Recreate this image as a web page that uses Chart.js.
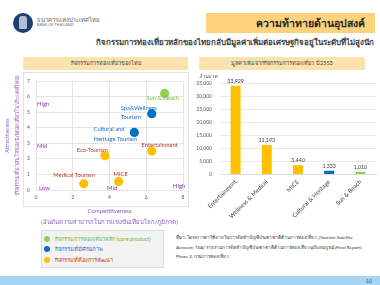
<!DOCTYPE html>
<html><head><meta charset="utf-8">
<script src="https://cdn.jsdelivr.net/npm/chart.js@4.4.1/dist/chart.umd.min.js"></script>
<style>
html,body{margin:0;padding:0}
body{width:380px;height:285px;overflow:hidden;background:#fff;position:relative;font-family:Lato,"Noto Sans",sans-serif;color:#333}
.abs{position:absolute;white-space:nowrap}
canvas{position:absolute}
</style></head><body>
<div class="abs" style="left:13px;top:13px;width:20px;height:20px;border-radius:50%;background:#1d3f73"></div>
<div class="abs" style="left:19px;top:16px;width:8px;height:13px;border-radius:3px 3px 1px 1px;background:#d9dfe9;opacity:.8"></div>
<div class="abs" style="left:37px;top:15px;font-size:6px;color:#666">ธนาคารแห่งประเทศไทย</div>
<div class="abs" style="left:37px;top:23px;font-size:3.5px;color:#666;letter-spacing:.2px">BANK OF THAILAND</div>
<div class="abs" style="left:206px;top:13px;width:169px;height:20px;background:#fcd27d"></div>
<div class="abs" id="title" style="right:15px;top:15px;font-size:10.5px;font-weight:bold;color:#262626;line-height:16px">ความท้าทายด้านอุปสงค์</div>
<div class="abs" id="sub" style="right:6px;top:37px;font-size:7.9px;font-weight:600;color:#404040;line-height:11px">กิจกรรมการท่องเที่ยวหลักของไทยกลับมีมูลค่าเพิ่มต่อเศรษฐกิจอยู่ในระดับที่ไม่สูงนัก</div>
<div class="abs" style="left:23px;top:57px;width:165px;height:13px;background:#fce3ad;font-size:5.5px;line-height:13px;text-align:center;color:#404040">กิจกรรมการท่องเที่ยวของไทย</div>
<div class="abs" style="left:199px;top:57px;width:166px;height:13px;background:#fce3ad;font-size:5.5px;line-height:13px;text-align:center;color:#404040">มูลค่าเพิ่มจากกิจกรรมการท่องเที่ยว ปี 2553</div>
<div class="abs" style="left:23px;top:72px;width:164px;height:133px;border:1px solid #e3e3e3"></div>
<canvas id="scatter" width="190" height="158" style="left:0;top:72px"></canvas>
<canvas id="bars" width="190" height="156" style="left:190px;top:72px"></canvas>
<div class="abs" style="left:199px;top:72px;font-size:5px;color:#404040;font-style:italic">ล้านบาท</div>
<div class="abs" id="legend" style="left:41px;top:230px;width:121px;height:36px;background:#f2f2f2;border:1px solid #dcdcdc"></div>
<div class="abs" style="left:176px;top:233px;font-size:4.6px;line-height:9.5px;color:#333">ที่มา: โครงการค่าใช้จ่ายในการจัดทำบัญชีประชาชาติด้านการท่องเที่ยว (Tourism Satellite<br>Account: TSA) รายงานการจัดทำบัญชีประชาชาติด้านการท่องเที่ยวฉบับสมบูรณ์ (Final Report)<br>Phase 2, กรมการท่องเที่ยว</div>
<div class="abs" style="left:0;top:276px;width:380px;height:9px;background:#aad4f4"></div>
<div class="abs" style="left:366px;top:277px;font-size:5px;color:#404040;line-height:8px">10</div>
<script>
// ---- data: scatter (Thai tourism activities) ----
const activities = ['Sun & Beach','Spa&Wellness Tourism','Cultural and Heritage Tourism','Entertainment','Eco-Tourism','MICE','Medical Tourism'];
const activityLabelLines = [['Sun & Beach'],['Spa&Wellness','Tourism'],['Cultural and','Heritage Tourism'],['Entertainment'],['Eco-Tourism'],['MICE'],['Medical Tourism']];
const competitiveness = [7.0, 6.3, 5.35, 6.3, 3.75, 4.5, 2.6];
const attractiveness = [6.2, 4.9, 3.7, 2.5, 2.2, 0.55, 0.4];
const activityGroup = ['core','potential','potential','develop','develop','develop','develop'];
const xTicks = [0,2,4,6,8];
const yTicks = [0,1,2,3,4,5,6,7];
const xTitle = ['Competitiveness','(อันดับความสามารถในการแข่งขันเทียบโลก/ภูมิภาค)'];
const yTitle = ['Attractiveness','(กิจกรรมที่น่าสนใจของนักท่องเที่ยวในประเทศไทย)'];
const quadrantTexts = ['High','Mid','Low','Mid','High'];
// ---- legend ----
const groups = ['core','potential','develop'];
const groupNames = ['กิจกรรมการท่องเที่ยวหลัก (core product)','กิจกรรมที่มีศักยภาพ','กิจกรรมที่ต้องการพัฒนา'];
// ---- data: bars (value added 2553, million baht) ----
const barCategories = ['Entertainment','Wellness & Medical','MICE','Cultural & Heritage','Sun & Beach'];
const barValues = [33929, 11193, 3440, 1333, 1010];
const barGroup = ['develop','develop','develop','potential','core'];
const barTicks = [0,5000,10000,15000,20000,25000,30000,35000];

// ---- styles ----
const groupColors = {core:'#92D050', potential:'#0070C0', develop:'#FFC000'};
const groupTextColors = {core:'#6fb83a', potential:'#1f6fbf', develop:'#c0392b'};
const labelStyle = [
  {dx:-2, dy:5, align:'center'},
  {dx:-31, dy:-5.7, align:'left', lh:9},
  {dx:-40.7, dy:-3, align:'left', lh:9.3},
  {dx:8, dy:-6, align:'center'},
  {dx:-12.6, dy:-5.6, align:'center'},
  {dx:2, dy:-7.3, align:'center'},
  {dx:-9.7, dy:-8.4, align:'center'}
];
const quadrantPos = [[37,104,'left'],[37,146,'left'],[39,188,'left'],[107,188,'left'],[173,186,'left']]; // page px
const FONT = 'Lato, "Noto Sans", sans-serif';

// legend html
const lg = document.getElementById('legend');
groups.forEach((g,i)=>{
  const d = document.createElement('div');
  d.className='abs';
  d.style.cssText = `left:2px;top:${3.5+i*10.8}px;font-size:5.6px;line-height:8px;color:${groupTextColors[g]}`;
  d.innerHTML = `<span style="display:inline-block;width:6px;height:6px;border-radius:50%;background:${groupColors[g]};vertical-align:-1px;margin-right:5px"></span>${groupNames[i]}`;
  lg.appendChild(d);
});

Chart.defaults.font.family = FONT;

const scatterLabels = {
  id:'scatterLabels',
  afterDatasetsDraw(chart){
    const ctx = chart.ctx;
    const meta = chart.getDatasetMeta(0);
    ctx.save();
    ctx.font = `5.8px ${FONT}`;
    ctx.textBaseline = 'middle';
    meta.data.forEach((pt,i)=>{
      const st = labelStyle[i];
      ctx.fillStyle = groupTextColors[activityGroup[i]];
      ctx.textAlign = st.align;
      activityLabelLines[i].forEach((ln,j)=>{
        ctx.fillText(ln, pt.x + st.dx, pt.y + st.dy + j*(st.lh||9));
      });
    });
    ctx.fillStyle = '#8a3aa6';
    ctx.font = `6px ${FONT}`;
    quadrantTexts.forEach((t,i)=>{
      const p = quadrantPos[i];
      ctx.textAlign = p[2];
      ctx.fillText(t, p[0], p[1]-72);
    });
    ctx.restore();
  }
};

new Chart(document.getElementById('scatter'), {
  type:'scatter',
  data:{datasets:[{
    data: competitiveness.map((c,i)=>({x:c, y:attractiveness[i]})),
    pointBackgroundColor: activityGroup.map(g=>groupColors[g]),
    pointBorderWidth:0, pointRadius:4.6, pointHoverRadius:4.6
  }]},
  options:{
    responsive:false, animation:false, devicePixelRatio:1,
    layout:{padding:{top:9,right:7,left:0,bottom:0}},
    plugins:{legend:{display:false}, tooltip:{enabled:false}},
    scales:{
      x:{type:'linear', min:0, max:8,
        afterBuildTicks(s){ s.ticks = xTicks.map(v=>({value:v})); },
        ticks:{font:{size:5}, color:'#595959', padding:4},
        grid:{color:'#dedede', drawTicks:false, lineWidth:0.8},
        border:{display:false},
        title:{display:true, text:xTitle, color:'#8a5cc7', font:{size:6, lineHeight:'11px'}, padding:{top:0,bottom:2.5}},
        afterFit(s){ s.height = 40; }
      },
      y:{type:'linear', min:0, max:7,
        afterBuildTicks(s){ s.ticks = yTicks.map(v=>({value:v})); },
        ticks:{font:{size:5}, color:'#595959', padding:6},
        grid:{color:'#dedede', drawTicks:false, lineWidth:0.8},
        border:{display:false},
        title:{display:true, text:yTitle, color:'#8a5cc7', font:{size:5.5, lineHeight:'10px'}, padding:{top:2,bottom:0}},
        afterFit(s){ s.width = 36; }
      }
    }
  },
  plugins:[scatterLabels]
});

const barLabels = {
  id:'barLabels',
  afterDatasetsDraw(chart){
    const ctx = chart.ctx;
    const meta = chart.getDatasetMeta(0);
    ctx.save();
    ctx.font = `5.3px ${FONT}`;
    ctx.fillStyle = '#404040';
    ctx.textAlign = 'center';
    ctx.textBaseline = 'bottom';
    meta.data.forEach((b,i)=>{
      ctx.fillText(barValues[i].toLocaleString('en-US'), b.x, b.y - 2);
    });
    ctx.restore();
  }
};

new Chart(document.getElementById('bars'), {
  type:'bar',
  data:{labels:barCategories, datasets:[{
    data:barValues,
    backgroundColor:barGroup.map(g=>groupColors[g]),
    borderWidth:0, categoryPercentage:1, barPercentage:0.32
  }]},
  options:{
    responsive:false, animation:false, devicePixelRatio:1,
    layout:{padding:{top:11,right:4,left:0,bottom:0}},
    plugins:{legend:{display:false}, tooltip:{enabled:false}},
    scales:{
      x:{
        ticks:{font:{size:6}, color:'#404040', minRotation:45, maxRotation:45, padding:4, autoSkip:false},
        grid:{display:false, drawTicks:false},
        border:{color:'#d9d9d9', width:0.8},
        afterFit(s){ s.height = 53.7; }
      },
      y:{min:0, max:35000,
        afterBuildTicks(s){ s.ticks = barTicks.map(v=>({value:v})); },
        ticks:{font:{size:5}, color:'#595959', padding:8, callback:v=>v.toLocaleString('en-US')},
        grid:{color:'#e3e3e3', drawTicks:false, lineWidth:0.8},
        border:{display:false},
        afterFit(s){ s.width = 30; }
      }
    }
  },
  plugins:[barLabels]
});
</script>
</body></html>
